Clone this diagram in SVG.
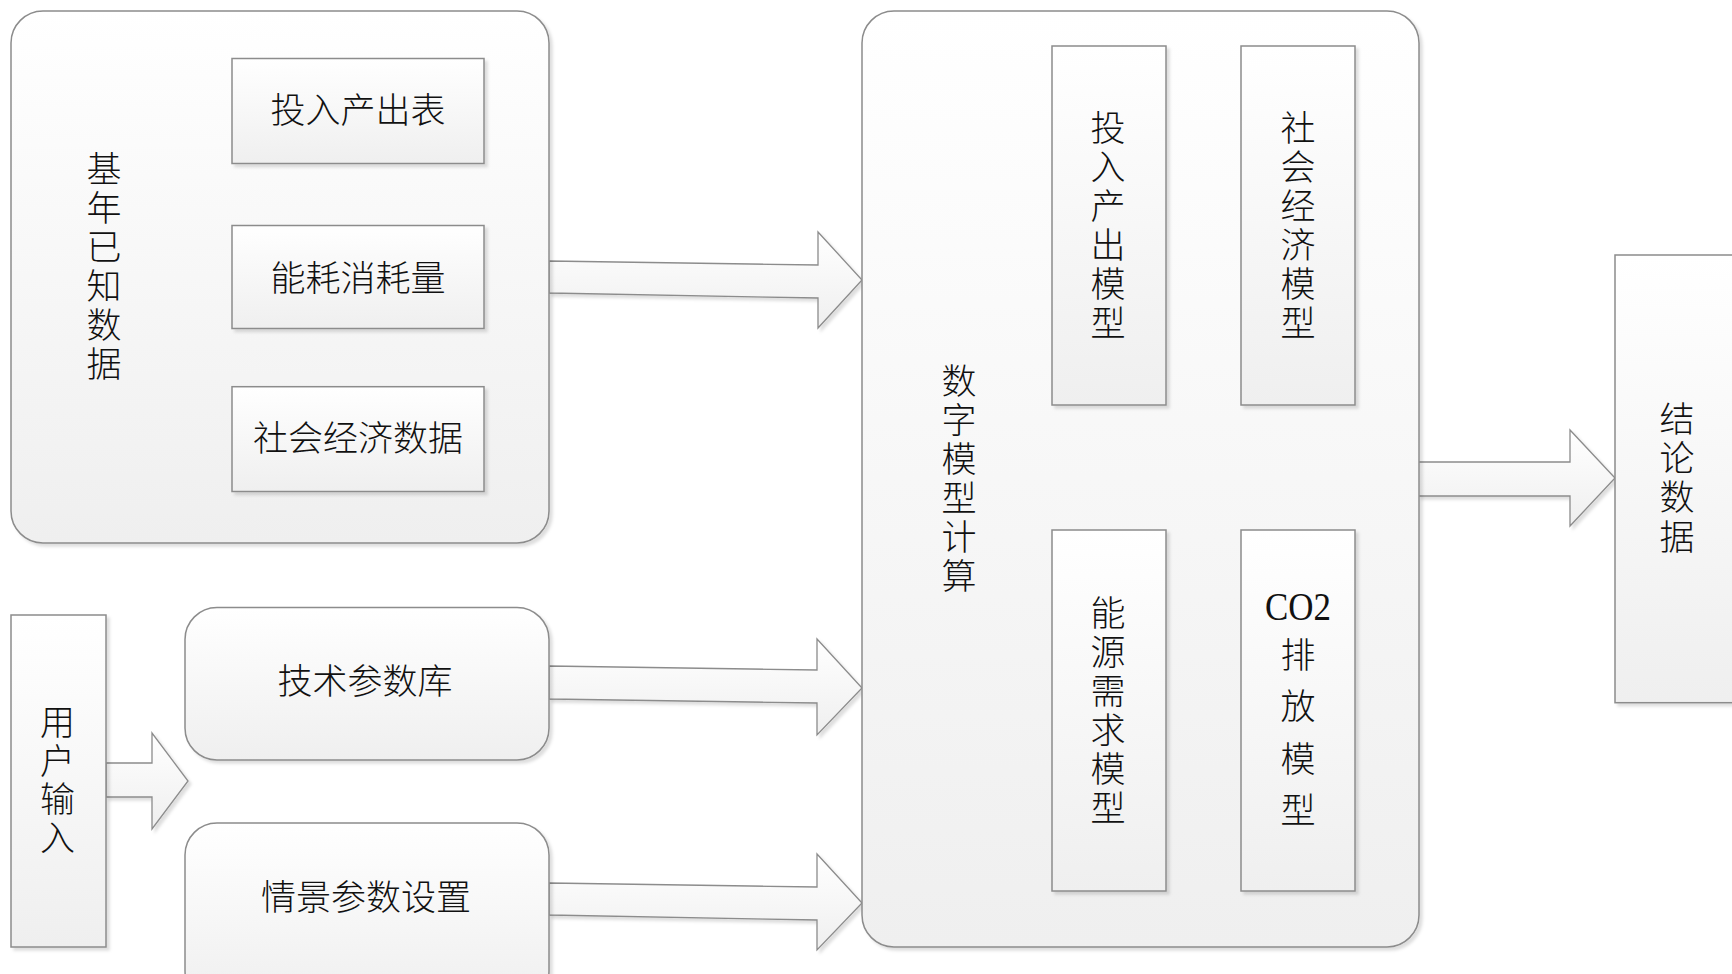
<svg xmlns="http://www.w3.org/2000/svg" width="1732" height="974" viewBox="0 0 1732 974">
<defs>
<linearGradient id="g" x1="0" y1="0" x2="0" y2="1">
<stop offset="0" stop-color="#ffffff"/>
<stop offset="1" stop-color="#efefef"/>
</linearGradient>
<filter id="sh" x="-5%" y="-5%" width="115%" height="115%">
<feDropShadow dx="3" dy="3" stdDeviation="1.5" flood-color="#000" flood-opacity="0.13"/>
</filter>
</defs>
<style>
.b{fill:url(#g);stroke:#8c8c8c;stroke-width:1.5;filter:url(#sh)}
.a{fill:url(#g);stroke:#8c8c8c;stroke-width:1.3;stroke-linejoin:miter;filter:url(#sh)}
.t{font-family:"Noto Sans CJK SC","Noto Sans CJK TC",sans-serif;font-size:35px;font-weight:300;fill:#111;text-anchor:middle;dominant-baseline:central}
.s{font-family:"Liberation Serif","Times New Roman",serif;font-size:39px;fill:#111;text-anchor:middle}
</style>
<rect width="1732" height="974" fill="#ffffff"/>

<g id="connectors">
<polygon class="a" points="549,261 818,265 818,232 862,280 818,328 818,298 549,293"/>
<polygon class="a" points="549,666 817,670 817,639 862,688 817,735 817,703 549,699"/>
<polygon class="a" points="549,883 817,887 817,854 862,903 817,950 817,920 549,915"/>
<polygon class="a" points="1418,462 1570,462 1570,430 1615,478 1570,526 1570,496 1418,496"/>
<polygon class="a" points="106,763 152,763 152,733 188,781 152,829 152,797 106,797"/>
</g>

<g id="base-data">
<rect class="b" x="11" y="11" width="538" height="532" rx="32" ry="32"/>
<text class="t"><tspan x="104" y="166">基</tspan><tspan x="104" y="205">年</tspan><tspan x="104" y="244">已</tspan><tspan x="104" y="283">知</tspan><tspan x="104" y="322">数</tspan><tspan x="104" y="361">据</tspan></text>
</g>
<g id="io-table">
<rect class="b" x="232" y="58.5" width="252" height="105"/>
<text class="t" x="358" y="107">投入产出表</text>
</g>
<g id="energy-consumption">
<rect class="b" x="232" y="225.5" width="252" height="103"/>
<text class="t" x="358" y="275">能耗消耗量</text>
</g>
<g id="socio-data">
<rect class="b" x="232" y="386.7" width="252" height="104.8"/>
<text class="t" x="358" y="435">社会经济数据</text>
</g>

<g id="model-calc">
<rect class="b" x="862" y="11" width="557" height="936" rx="32" ry="32"/>
<text class="t"><tspan x="959" y="378">数</tspan><tspan x="959" y="417">字</tspan><tspan x="959" y="456">模</tspan><tspan x="959" y="495">型</tspan><tspan x="959" y="534">计</tspan><tspan x="959" y="573">算</tspan></text>
</g>
<g id="io-model">
<rect class="b" x="1052" y="46" width="114" height="359"/>
<text class="t"><tspan x="1108" y="125">投</tspan><tspan x="1108" y="164">入</tspan><tspan x="1108" y="203">产</tspan><tspan x="1108" y="242">出</tspan><tspan x="1108" y="281">模</tspan><tspan x="1108" y="320">型</tspan></text>
</g>
<g id="socio-model">
<rect class="b" x="1241" y="46" width="114" height="359"/>
<text class="t"><tspan x="1298" y="125">社</tspan><tspan x="1298" y="164">会</tspan><tspan x="1298" y="203">经</tspan><tspan x="1298" y="242">济</tspan><tspan x="1298" y="281">模</tspan><tspan x="1298" y="320">型</tspan></text>
</g>
<g id="energy-model">
<rect class="b" x="1052" y="530" width="114" height="361"/>
<text class="t"><tspan x="1108" y="610">能</tspan><tspan x="1108" y="649">源</tspan><tspan x="1108" y="688">需</tspan><tspan x="1108" y="727">求</tspan><tspan x="1108" y="766">模</tspan><tspan x="1108" y="805">型</tspan></text>
</g>
<g id="co2-model">
<rect class="b" x="1241" y="530" width="114" height="361"/>
<text class="s" x="1298" y="620" textLength="66" lengthAdjust="spacingAndGlyphs">CO2</text>
<text class="t"><tspan x="1298" y="651.5">排</tspan><tspan x="1298" y="703">放</tspan><tspan x="1298" y="755.5">模</tspan><tspan x="1298" y="807">型</tspan></text>
</g>

<g id="result">
<rect class="b" x="1615" y="255" width="130" height="447.7"/>
<text class="t"><tspan x="1677" y="416">结</tspan><tspan x="1677" y="455">论</tspan><tspan x="1677" y="494">数</tspan><tspan x="1677" y="534">据</tspan></text>
</g>

<g id="user-input">
<rect class="b" x="11" y="615" width="95" height="332"/>
<text class="t"><tspan x="57.5" y="719">用</tspan><tspan x="57.5" y="757.5">户</tspan><tspan x="57.5" y="796">输</tspan><tspan x="57.5" y="834.5">入</tspan></text>
</g>
<g id="tech-params">
<rect class="b" x="185" y="607.5" width="364" height="152.5" rx="32" ry="32"/>
<text class="t" x="365" y="678">技术参数库</text>
</g>
<g id="scenario-params">
<rect class="b" x="185" y="823" width="364" height="180" rx="32" ry="32"/>
<text class="t" x="366" y="894">情景参数设置</text>
</g>
</svg>
